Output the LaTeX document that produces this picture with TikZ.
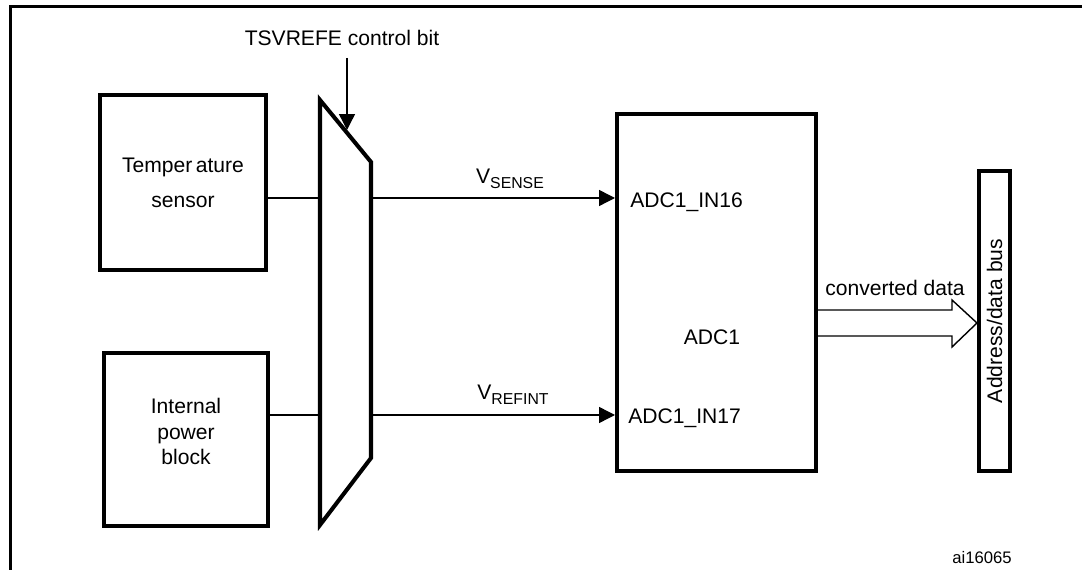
\documentclass[tikz,border=0pt]{standalone}
\usepackage{fontspec}
\setmainfont{Liberation Sans}
\usetikzlibrary{arrows.meta}
\newcommand{\vsub}[1]{V\raisebox{-3pt}{\fontsize{9}{10}\selectfont #1}}
\begin{document}
\begin{tikzpicture}[x=0.02cm,y=-0.02cm,
  blk/.style={draw,line width=2.3pt,inner sep=0pt,align=center},
  wire/.style={line width=0.8pt},
  sig/.style={wire,-{Triangle[length=9pt,width=9pt]}},
  lbl/.style={inner sep=0pt,font=\fontsize{12}{14}\selectfont}]
  \useasboundingbox (0,0) rectangle (1082,570);
  \clip (0,0) rectangle (1082,570);
  \draw[line width=1.3pt] (10.5,600) |- (1090,6.5);
  \node[blk,minimum width=3.32cm,minimum height=3.5cm,font=\fontsize{12}{20}\selectfont] (temp) at (183,182.5) {Temper\,ature\\sensor};
  \node[blk,minimum width=3.28cm,minimum height=3.46cm,
    label={[lbl,align=center,font=\fontsize{12}{14.7}\selectfont,yshift=4.5pt]center:Internal\\power\\block}] (pwr) at (186,439.5) {};
  \draw[line width=2.3pt] (320,100) coordinate (m1) -- (371,162) coordinate (m2)
    -- (371,458) coordinate (m3) -- (320,525) coordinate (m4) -- cycle;
  \coordinate (mi1) at (320,198);
  \coordinate (mo1) at (371,198);
  \coordinate (mi2) at (320,415);
  \coordinate (mo2) at (371,415);
  \coordinate (ctlin) at (347,58);
  \coordinate (ctltip) at (347,130);
  \node[lbl] (tsv) at (342,38) {TSVREFE control bit};
  \draw[sig] (ctlin) -- (ctltip);
  \node[blk,minimum width=3.98cm,minimum height=7.14cm] (adc) at (716.5,292.5) {};
  \node[lbl] (adcname) at (712,337) {ADC1};
  \node[lbl,anchor=west] (in16) at (630,202) {ADC1\_IN16};
  \node[lbl,anchor=west] (in17) at (628,418) {ADC1\_IN17};
  \draw[wire] (temp.east |- mi1) -- (mi1);
  \draw[wire] (pwr.east |- mi2) -- (mi2);
  \draw[sig] (mo1) -- (adc.west |- mo1);
  \draw[sig] (mo2) -- (adc.west |- mo2);
  \node[lbl] (vsense) at (510,179) {\vsub{SENSE}};
  \node[lbl] (vrefint) at (513,395) {\vsub{REFINT}};
  \node[blk,minimum width=0.62cm,minimum height=6cm,
    label={[lbl,rotate=90]center:Address/data bus}] (bus) at (994.5,321) {};
  \draw[wire,line join=miter] (adc.east |- 0,310) -- (952,310) -- (952,300) -- (bus.west |- 0,323)
    -- (952,347) -- (952,336) -- (adc.east |- 0,336);
  \node[lbl] (cdata) at (895,288) {converted data};
  \node[inner sep=0pt,font=\fontsize{9.5}{11}\selectfont] (code) at (982,558) {ai16065};
\end{tikzpicture}
\end{document}
